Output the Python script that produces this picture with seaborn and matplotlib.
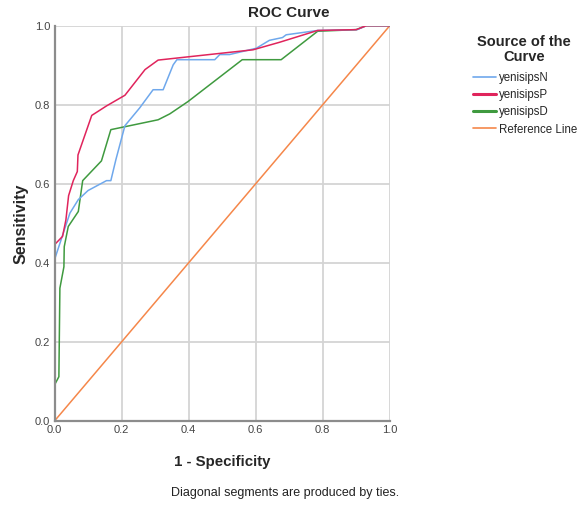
import matplotlib
matplotlib.use("Agg")
import matplotlib.pyplot as plt
import seaborn as sns
import pandas as pd
from matplotlib.lines import Line2D
from matplotlib import font_manager

# ---- data ----
n_fpr = [0.0, 0.0, 0.026, 0.046, 0.071, 0.10, 0.155, 0.168, 0.183, 0.21, 0.254, 0.294, 0.324,
         0.354, 0.365, 0.478, 0.493, 0.522, 0.602, 0.641, 0.68, 0.691, 0.785, 0.903, 0.93, 1.0]
n_tpr = [0.0, 0.408, 0.475, 0.526, 0.56, 0.583, 0.608, 0.608, 0.661, 0.747, 0.792, 0.838, 0.838,
         0.901, 0.914, 0.914, 0.927, 0.927, 0.943, 0.963, 0.97, 0.977, 0.988, 0.99, 1.0, 1.0]

p_fpr = [0.0, 0.0, 0.024, 0.034, 0.042, 0.056, 0.068, 0.07, 0.111, 0.155, 0.21, 0.27, 0.309,
         0.592, 0.671, 0.785, 0.90, 0.93, 1.0]
p_tpr = [0.0, 0.446, 0.467, 0.509, 0.57, 0.608, 0.631, 0.673, 0.773, 0.797, 0.824, 0.889, 0.913,
         0.939, 0.958, 0.988, 0.99, 1.0, 1.0]

d_fpr = [0.0, 0.0, 0.013, 0.016, 0.028, 0.029, 0.041, 0.071, 0.084, 0.14, 0.168, 0.309, 0.344,
         0.398, 0.56, 0.676, 0.785, 0.90, 0.93, 1.0]
d_tpr = [0.0, 0.091, 0.112, 0.336, 0.39, 0.441, 0.492, 0.53, 0.608, 0.658, 0.737, 0.762, 0.777,
         0.808, 0.914, 0.914, 0.986, 0.99, 1.0, 1.0]

ref_fpr = [0.0, 1.0]
ref_tpr = [0.0, 1.0]

series_names = ["yenisipsN", "yenisipsP", "yenisipsD", "Reference Line"]
colors = ["#6fa8ec", "#e0245c", "#3f9a3f", "#f5874a"]

frames = []
for name, xs, ys in zip(series_names,
                        [n_fpr, p_fpr, d_fpr, ref_fpr],
                        [n_tpr, p_tpr, d_tpr, ref_tpr]):
    frames.append(pd.DataFrame({"fpr": xs, "tpr": ys, "src": name,
                                "order": range(len(xs))}))
df = pd.concat(frames, ignore_index=True)

sns.set_style("white")
plt.rcParams['font.family'] = ['Liberation Sans', 'DejaVu Sans']

installed = {f.name for f in font_manager.fontManager.ttflist}
narrow = 'Liberation Sans Narrow' if 'Liberation Sans Narrow' in installed else 'Liberation Sans'

fig = plt.figure(figsize=(5.80, 5.14), dpi=100)
ax = fig.add_axes([0.094, 0.181, 0.578, 0.769])

draw_order = ["Reference Line", "yenisipsD", "yenisipsN", "yenisipsP"]
pal = dict(zip(series_names, colors))
for name in draw_order:
    sub = df[df["src"] == name]
    sns.lineplot(data=sub, x="fpr", y="tpr", sort=False, estimator=None,
                 color=pal[name], linewidth=1.1, ax=ax, legend=False)

ax.set_xlim(0, 1)
ax.set_ylim(0, 1)
ticks = [0.0, 0.2, 0.4, 0.6, 0.8, 1.0]
ax.set_xticks(ticks)
ax.set_yticks(ticks)
ax.set_xticklabels([f"{t:.1f}" for t in ticks], fontsize=8, color="#444444")
ax.set_yticklabels([f"{t:.1f}" for t in ticks], fontsize=8, color="#444444")
ax.tick_params(axis="both", length=0, pad=3)
ax.grid(True, color="#d4d4d4", linewidth=1.3)
ax.set_axisbelow(True)
for s in ["top", "right"]:
    ax.spines[s].set_visible(False)
for s in ["left", "bottom"]:
    ax.spines[s].set_color("#8c8c8c")
    ax.spines[s].set_linewidth(1.6)

ax.set_xlabel("1 - Specificity", fontsize=10.8, fontweight="bold", labelpad=14,
              family=[narrow, 'DejaVu Sans'])
ax.set_ylabel("Sensitivity", fontsize=11.5, fontweight="bold", labelpad=5,
              family=[narrow, 'DejaVu Sans'])
fig.text(0.498, 0.975, "ROC Curve", ha="center", va="center",
         fontsize=11, fontweight="bold", family=[narrow, 'DejaVu Sans'])
fig.text(0.491, 0.04, "Diagonal segments are produced by ties.", ha="center",
         va="center", fontsize=9, color="#222222")

fig.text(0.904, 0.904, "Source of the\nCurve", ha="center", va="center",
         fontsize=10.5, fontweight="bold", linespacing=1.1,
         family=[narrow, 'DejaVu Sans'])

handles = [Line2D([0], [0], color=c, linewidth=1.2 if n in ("yenisipsN", "Reference Line") else 2.2)
           for n, c in zip(series_names, colors)]
leg = fig.legend(handles, series_names, loc="upper left",
                 bbox_to_anchor=(0.816, 0.860), frameon=False,
                 prop={'family': [narrow, 'DejaVu Sans'], 'size': 8.3},
                 handlelength=2.0, handletextpad=0.2, labelspacing=0.45,
                 borderpad=0.0, borderaxespad=0.0)

fig.savefig("out.png", dpi=100)
